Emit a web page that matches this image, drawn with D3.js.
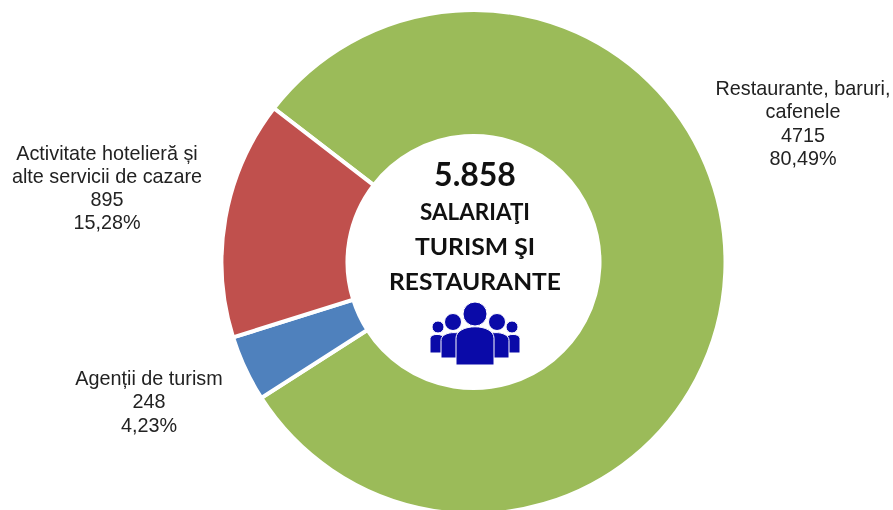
<!DOCTYPE html>
<html><head><meta charset="utf-8">
<script src="https://cdn.jsdelivr.net/npm/d3@7"></script>
<style>html,body{margin:0;padding:0;background:#fff;overflow:hidden}svg{display:block;filter:blur(0.45px)}</style>
</head><body><svg id="c" width="893" height="510"></svg>
<script>
const categories = ["Restaurante, baruri, cafenele","Agenții de turism","Activitate hotelieră și alte servicii de cazare"];
const values = [4715,248,895];
const percents = ["80,49%","4,23%","15,28%"];
const colors = ["#9BBB59","#4F81BD","#C0504D"];
const labelLines = [["Restaurante, baruri,","cafenele"],["Agenții de turism"],["Activitate hotelieră și","alte servicii de cazare"]];
const centerTotal = "5.858";
const centerLines = ["SALARIAŢI","TURISM ŞI","RESTAURANTE"];
const centerWidths = [110,120,172];

const svg = d3.select("#c");
const cx=473.5, cy=262, R=252, r=126;
const g = svg.append("g").attr("transform",`translate(${cx},${cy})`);
const start = -52.4*Math.PI/180;
const pie = d3.pie().sort(null).value(d=>d).startAngle(start).endAngle(start+2*Math.PI);
const arc = d3.arc().innerRadius(r).outerRadius(R);
g.selectAll("path").data(pie(values)).join("path")
 .attr("d",arc).attr("fill",(d,i)=>colors[i]).attr("stroke","#fff").attr("stroke-width",4);

const labelPos=[{x:803,y:95},{x:149,y:385},{x:107,y:159.5}];
const lh=23.3;
labelPos.forEach((p,i)=>{
  const lines=[...labelLines[i],String(values[i]),percents[i]];
  svg.append("text").attr("text-anchor","middle")
    .attr("font-family","'Liberation Sans',Arial,sans-serif").attr("font-size",19.8).attr("fill","#222")
    .selectAll("tspan").data(lines).join("tspan")
    .attr("x",p.x).attr("y",(d,j)=>p.y+j*lh).text(d=>d);
});

svg.append("text").attr("x",475).attr("y",186).attr("text-anchor","middle")
  .attr("font-family","Lato,sans-serif").attr("font-weight",700).attr("font-size",32).attr("fill","#111").text(centerTotal);
const cy2=[220,255,290];
centerLines.forEach((t,i)=>svg.append("text").attr("x",475).attr("y",cy2[i]).attr("text-anchor","middle")
  .attr("font-family","Lato,sans-serif").attr("font-weight",700).attr("font-size",23)
  .attr("textLength",centerWidths[i]).attr("lengthAdjust","spacingAndGlyphs").attr("fill","#111").text(t));

// people icon
const ic=svg.append("g").attr("fill","#0A0AA8").attr("stroke","#fff").attr("stroke-width",1);
function person(hx,hy,hr,x,bw,by,bb){
  ic.append("circle").attr("cx",hx).attr("cy",hy).attr("r",hr);
  const p=d3.path(), rad=bw/2;
  p.moveTo(x-rad,bb); p.lineTo(x-rad,by+rad*0.8);
  p.bezierCurveTo(x-rad,by,x+rad,by,x+rad,by+rad*0.8);
  p.lineTo(x+rad,bb); p.closePath();
  ic.append("path").attr("d",p.toString());
}
person(438,327,6,437,14,333,353); person(512,327,6,513,14,333,353);
person(453,322,8.5,454,26,330,358); person(497,322,8.5,496,26,330,358);
person(475,314,12,475,38,323,365);
</script></body></html>
